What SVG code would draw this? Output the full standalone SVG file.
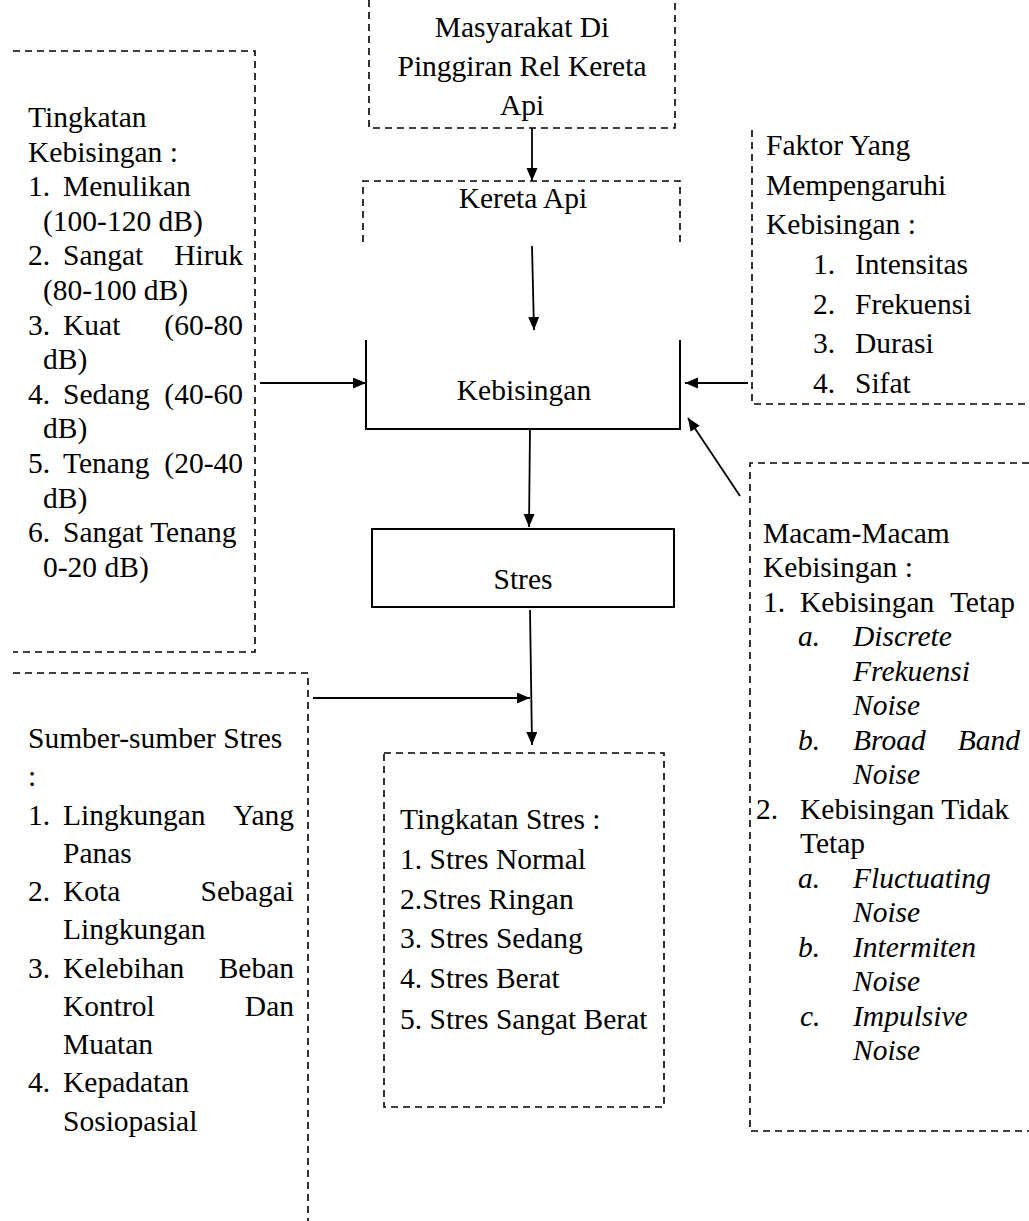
<svg xmlns="http://www.w3.org/2000/svg" width="1029" height="1221" viewBox="0 0 1029 1221">
<style>
text{font-family:"Liberation Serif","Times New Roman",serif;font-size:29.5px;fill:#000}
.c{text-anchor:middle}
.e{text-anchor:end}
.i{font-style:italic}
.d{fill:none;stroke:#000;stroke-width:1.6;stroke-dasharray:7 5}
.s{fill:none;stroke:#000;stroke-width:2}
.a{fill:none;stroke:#000;stroke-width:1.8;marker-end:url(#ah)}
</style>
<defs>
<marker id="ah" markerUnits="userSpaceOnUse" markerWidth="14" markerHeight="12" refX="13" refY="5.5" orient="auto">
<path d="M0,0 L13,5.5 L0,11 z" fill="#000"/>
</marker>
</defs>
<rect width="1029" height="1221" fill="#fff"/>

<g id="masyarakat">
<path class="d" d="M369,0 V128 H675 V0"/>
<text class="c" x="522" y="37">Masyarakat Di</text>
<text class="c" x="522" y="76">Pinggiran Rel Kereta</text>
<text class="c" x="522" y="115">Api</text>
</g>

<g id="kereta-api">
<path class="d" d="M363,242 V181 H680 V242"/>
<text class="c" x="523" y="208">Kereta Api</text>
</g>

<g id="kebisingan">
<path class="s" d="M366,340 V429 H680 V340"/>
<text class="c" x="524" y="400">Kebisingan</text>
</g>

<g id="stres">
<rect class="s" x="372" y="529" width="302" height="78"/>
<text class="c" x="523" y="589">Stres</text>
</g>

<g id="tingkatan-kebisingan">
<path class="d" d="M13,51 H255 V652 H13"/>
<text x="28" y="127">Tingkatan</text>
<text x="28" y="162">Kebisingan :</text>
<text x="28" y="196">1.</text><text x="63" y="196">Menulikan</text>
<text x="43" y="231">(100-120 dB)</text>
<text x="28" y="265">2.</text><text x="63" y="265">Sangat</text><text class="e" x="243" y="265">Hiruk</text>
<text x="43" y="300">(80-100 dB)</text>
<text x="28" y="335">3.</text><text x="63" y="335">Kuat</text><text class="e" x="243" y="335">(60-80</text>
<text x="43" y="369">dB)</text>
<text x="28" y="404">4.</text><text x="63" y="404">Sedang</text><text class="e" x="243" y="404">(40-60</text>
<text x="43" y="438">dB)</text>
<text x="28" y="473">5.</text><text x="63" y="473">Tenang</text><text class="e" x="243" y="473">(20-40</text>
<text x="43" y="508">dB)</text>
<text x="28" y="542">6.</text><text x="63" y="542">Sangat Tenang</text>
<text x="43" y="577">0-20 dB)</text>
</g>

<g id="faktor">
<path class="d" d="M752,130 V404 H1029"/>
<text x="766" y="155">Faktor Yang</text>
<text x="766" y="195">Mempengaruhi</text>
<text x="766" y="234">Kebisingan :</text>
<text x="813" y="274">1.</text><text x="855" y="274">Intensitas</text>
<text x="813" y="314">2.</text><text x="855" y="314">Frekuensi</text>
<text x="813" y="353">3.</text><text x="855" y="353">Durasi</text>
<text x="813" y="393">4.</text><text x="855" y="393">Sifat</text>
</g>

<g id="macam">
<path class="d" d="M1029,463 H750 V1131 H1029"/>
<text x="763" y="543">Macam-Macam</text>
<text x="763" y="577">Kebisingan :</text>
<text x="763" y="612">1.</text><text x="800" y="612">Kebisingan</text><text class="e" x="1015" y="612">Tetap</text>
<text class="i" x="798" y="646">a.</text><text class="i" x="853" y="646">Discrete</text>
<text class="i" x="853" y="681">Frekuensi</text>
<text class="i" x="853" y="715">Noise</text>
<text class="i" x="798" y="750">b.</text><text class="i" x="853" y="750">Broad</text><text class="i e" x="1020" y="750">Band</text>
<text class="i" x="853" y="784">Noise</text>
<text x="756" y="819">2.</text><text x="800" y="819">Kebisingan Tidak</text>
<text x="800" y="853">Tetap</text>
<text class="i" x="798" y="888">a.</text><text class="i" x="853" y="888">Fluctuating</text>
<text class="i" x="853" y="922">Noise</text>
<text class="i" x="798" y="957">b.</text><text class="i" x="853" y="957">Intermiten</text>
<text class="i" x="853" y="991">Noise</text>
<text class="i" x="800" y="1026">c.</text><text class="i" x="853" y="1026">Impulsive</text>
<text class="i" x="853" y="1060">Noise</text>
</g>

<g id="sumber">
<path class="d" d="M13,673 H308 V1221"/>
<text x="28" y="748">Sumber-sumber Stres</text>
<text x="28" y="786">:</text>
<text x="28" y="825">1.</text><text x="63" y="825">Lingkungan</text><text class="e" x="294" y="825">Yang</text>
<text x="63" y="863">Panas</text>
<text x="28" y="901">2.</text><text x="63" y="901">Kota</text><text class="e" x="294" y="901">Sebagai</text>
<text x="63" y="939">Lingkungan</text>
<text x="28" y="978">3.</text><text x="63" y="978">Kelebihan</text><text class="e" x="294" y="978">Beban</text>
<text x="63" y="1016">Kontrol</text><text class="e" x="294" y="1016">Dan</text>
<text x="63" y="1054">Muatan</text>
<text x="28" y="1092">4.</text><text x="63" y="1092">Kepadatan</text>
<text x="63" y="1131">Sosiopasial</text>
</g>

<g id="tingkatan-stres">
<rect class="d" x="384" y="753" width="280" height="354"/>
<text x="400" y="829">Tingkatan Stres :</text>
<text x="400" y="869">1. Stres Normal</text>
<text x="400" y="909">2.Stres Ringan</text>
<text x="400" y="948">3. Stres Sedang</text>
<text x="400" y="988">4. Stres Berat</text>
<text x="400" y="1029">5. Stres Sangat Berat</text>
</g>

<g id="connectors">
<line class="a" x1="532" y1="128" x2="532" y2="181"/>
<line class="a" x1="532" y1="246" x2="534" y2="330"/>
<line class="a" x1="260" y1="383" x2="366" y2="383"/>
<line class="a" x1="748" y1="383" x2="685" y2="383"/>
<line class="a" x1="740" y1="496" x2="688" y2="418"/>
<line class="a" x1="530" y1="429" x2="529" y2="527"/>
<line class="a" x1="530" y1="610" x2="532" y2="745"/>
<line class="a" x1="313" y1="698" x2="530" y2="698"/>
</g>
</svg>
